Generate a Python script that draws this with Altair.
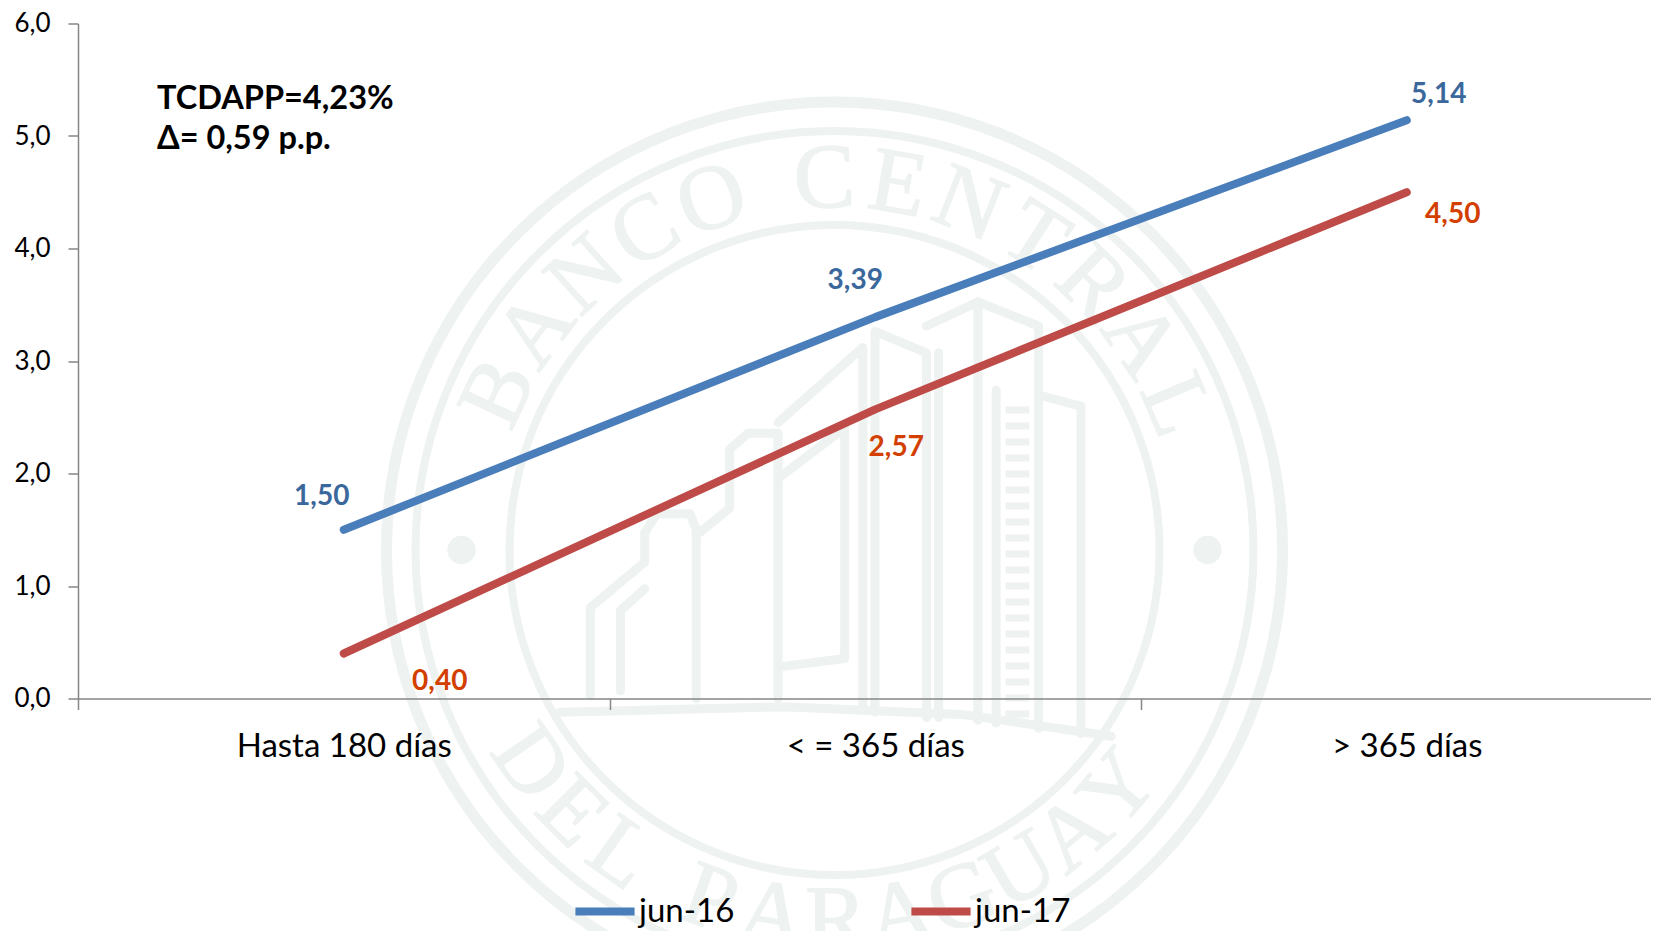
import math
import altair as alt
import pandas as pd

categories = ["Hasta 180 días", "< = 365 días", "> 365 días"]
jun16 = [1.50, 3.39, 5.14]
jun17 = [0.40, 2.57, 4.50]
series_names = ["jun-16", "jun-17"]
line_colors = ["#4A7EBB", "#BE4B48"]
label_colors = ["#3B689C", "#D23F00"]
label_offsets = [
    [(-22, -33), (-20, -36), (32, -25)],
    [(96, 28), (21, 39), (46, 23)],
]
note_lines = ["TCDAPP=4,23%", "Δ= 0,59 p.p."]
yticks = [0, 1, 2, 3, 4, 5, 6]

FONT = "Lato"
LEFT, TOP = 78, 23.5
W, H = 1573, 675
BANDS = 1594.5
WM = "#EEF2F1"
CX, CY = 834.5 - LEFT, 550 - TOP

rows = []
for name, vals in zip(series_names, [jun16, jun17]):
    for c, v in zip(categories, vals):
        rows.append({"cat": c, "val": v, "serie": name})
df = pd.DataFrame(rows)

x_enc = alt.X(
    "cat:N",
    sort=categories,
    title=None,
    scale=alt.Scale(range=[0, BANDS], paddingInner=0, paddingOuter=0, round=False),
    axis=alt.Axis(
        labelAngle=0, tickBand="extent", tickSize=11, tickColor="#868686", domainColor="#868686",
        domainWidth=1.5, tickWidth=1.5, labelFont=FONT, labelFontSize=33, labelColor="#000000",
        labelPadding=21, grid=False, zindex=1, labelLimit=400,
    ),
)
y_enc = alt.Y(
    "val:Q",
    title=None,
    scale=alt.Scale(domain=[0, 6], nice=False),
    axis=alt.Axis(
        values=yticks, labelExpr="replace(format(datum.value,'.1f'),'.',',')",
        tickSize=10, tickColor="#868686", domainColor="#868686", domainWidth=1.5, tickWidth=1.5,
        labelFont=FONT, labelFontSize=26, labelColor="#000000", labelPadding=18, grid=False, zindex=1,
    ),
)

# watermark seal (decoration)
layers = []
for r, sw in [(448, 11), (419, 8), (325, 8)]:
    layers.append(
        alt.Chart(pd.DataFrame({"a": [0]})).mark_point(shape="circle", filled=False, stroke=WM, strokeWidth=sw, opacity=1)
        .encode(x=alt.value(CX), y=alt.value(CY), size=alt.SizeValue((2 * r) ** 2))
    )
for ox in (-373, 373):
    layers.append(
        alt.Chart(pd.DataFrame({"a": [0]})).mark_point(shape="circle", filled=True, fill=WM, opacity=1)
        .encode(x=alt.value(CX + ox), y=alt.value(CY), size=alt.SizeValue(800))
    )


def arc_positions(text, start, end):
    weights = [0.55 if ch == " " else 1.0 for ch in text]
    total = sum((weights[i] + weights[i + 1]) / 2 for i in range(len(text) - 1))
    out = []
    run = 0.0
    for i, ch in enumerate(text):
        out.append(start + (end - start) * run / total)
        if i < len(text) - 1:
            run += (weights[i] + weights[i + 1]) / 2
    return out


letters = []
top_text = "BANCO CENTRAL"
for ch, deg in zip(top_text, arc_positions(top_text, -65, 67)):
    a = math.radians(deg)
    letters.append({"t": ch, "px": CX + 371 * math.sin(a), "py": CY - 371 * math.cos(a), "rot": (deg + 360) % 360})
bot_text = "DEL PARAGUAY"
for ch, deg in zip(bot_text, arc_positions(bot_text, 55, -50)):
    a = math.radians(deg)
    letters.append({"t": ch, "px": CX - 371 * math.sin(a), "py": CY + 371 * math.cos(a), "rot": (deg + 360) % 360})
layers.append(
    alt.Chart(pd.DataFrame(letters)).mark_text(font="Liberation Serif", fontSize=92, color=WM, stroke=WM, strokeWidth=1.5,
                                               align="center", baseline="middle")
    .encode(x=alt.X("px:Q", scale=None, axis=None), y=alt.Y("py:Q", scale=None, axis=None),
            angle=alt.Angle("rot:Q", scale=None), text="t:N")
)

paths = [
    [(380, 1130), (380, 965), (470, 880), (470, 825), (490, 790), (545, 790), (555, 820), (555, 1135)],
    [(430, 1120), (430, 970), (470, 930)],
    [(555, 830), (610, 780), (610, 670), (640, 640), (690, 640), (690, 1135)],
    [(690, 620), (830, 480), (830, 1150)],
    [(695, 720), (800, 630), (800, 1060), (695, 1075)],
    [(850, 1160), (850, 450), (935, 490), (935, 1170)],
    [(935, 440), (1020, 395), (1120, 440), (1120, 1190)],
    [(1020, 395), (1020, 1175)],
    [(955, 490), (955, 1170)],
    [(1050, 560), (1050, 1180)],
    [(1125, 570), (1190, 590), (1190, 1200)],
    [(330, 1160), (700, 1150), (1000, 1165), (1240, 1205)],
]
prow = []
for k, p in enumerate(paths):
    for j, (zx, zy) in enumerate(p):
        prow.append({"k": k, "j": j, "px": 360 + zx / 1.6505 - LEFT, "py": 90 + zy / 1.8644 - TOP})
layers.append(
    alt.Chart(pd.DataFrame(prow)).mark_line(color=WM, strokeWidth=9, strokeJoin="round", strokeCap="round")
    .encode(x=alt.X("px:Q", scale=None, axis=None), y=alt.Y("py:Q", scale=None, axis=None), detail="k:N", order="j:Q")
)
ladder = pd.DataFrame({"k": [0, 0], "j": [0, 1],
                       "px": [360 + 1085 / 1.6505 - LEFT] * 2,
                       "py": [90 + 590 / 1.8644 - TOP, 90 + 1180 / 1.8644 - TOP]})
layers.append(
    alt.Chart(ladder).mark_line(color=WM, strokeWidth=24, strokeDash=[7, 9])
    .encode(x=alt.X("px:Q", scale=None, axis=None), y=alt.Y("py:Q", scale=None, axis=None), order="j:Q")
)

lines = alt.Chart(df).mark_line(strokeWidth=8, strokeCap="round", strokeJoin="round").encode(
    x=x_enc,
    y=y_enc,
    color=alt.Color(
        "serie:N",
        scale=alt.Scale(domain=series_names, range=line_colors),
        title=None,
        legend=alt.Legend(
            orient="none", legendX=493, legendY=854, direction="horizontal", columns=2,
            symbolType="stroke", symbolSize=3500, symbolStrokeWidth=8,
            labelFont=FONT, labelFontSize=33, labelColor="#000000", labelOffset=0,
            columnPadding=160, labelLimit=200,
        ),
    ),
)
layers.append(lines)

for s, name in enumerate(series_names):
    vals = [jun16, jun17][s]
    for i, c in enumerate(categories):
        dx, dy = label_offsets[s][i]
        d = pd.DataFrame({"cat": [c], "val": [vals[i]], "lab": [f"{vals[i]:.2f}".replace(".", ",")]})
        layers.append(
            alt.Chart(d).mark_text(font=FONT, fontSize=28, fontWeight=700, color=label_colors[s], dx=dx, dy=dy,
                                   align="center", baseline="middle")
            .encode(x=x_enc, y=y_enc, text="lab:N")
        )

for txt, by in zip(note_lines, [109, 149]):
    layers.append(
        alt.Chart(pd.DataFrame({"t": [txt]})).mark_text(font=FONT, fontSize=32.5, fontWeight=700, color="#000000",
                                                       align="left", baseline="alphabetic")
        .encode(x=alt.value(157 - LEFT), y=alt.value(by - TOP), text="t:N")
    )

chart = alt.layer(*layers).properties(
    width=W, height=H,
    autosize=alt.AutoSizeParams(type="none"),
    padding={"left": LEFT - 8, "top": TOP - 8, "right": 0, "bottom": 232},
    background="#FFFFFF",
).configure_view(stroke=None)

chart.save("out.html", embed_options={"renderer": "svg", "actions": False})
